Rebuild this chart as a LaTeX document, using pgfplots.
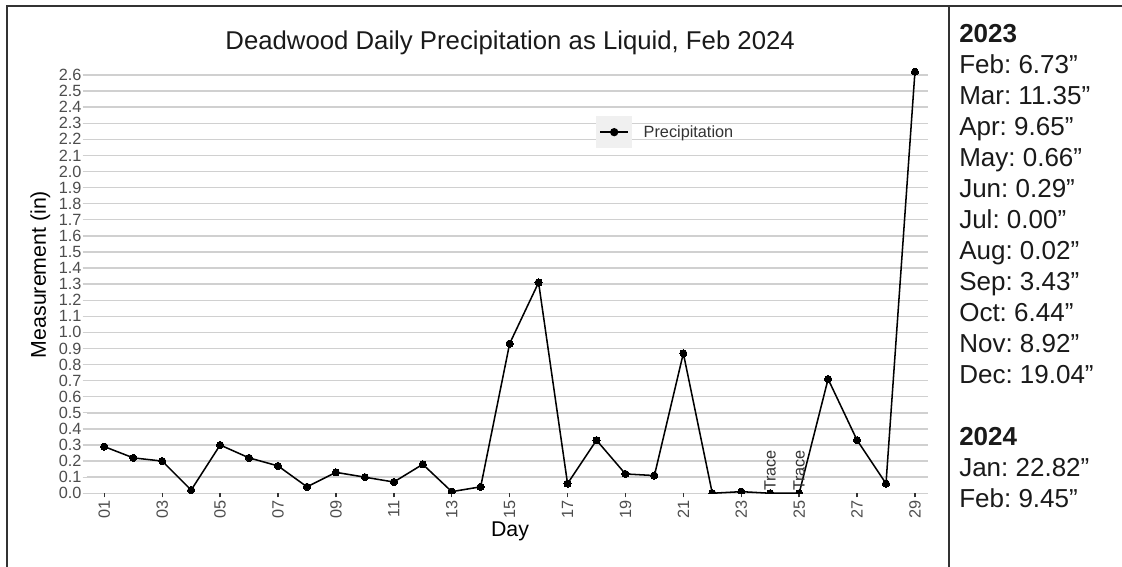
\documentclass[border=0pt]{standalone}
\usepackage{pgfplots}
\pgfplotsset{compat=1.18}
\usepackage{fontspec}
\setmainfont{Liberation Sans}
\frenchspacing
\definecolor{gridc}{HTML}{D0D0D0}
\definecolor{tickgray}{HTML}{4D4D4D}
\definecolor{framec}{HTML}{333333}
\definecolor{keybg}{HTML}{F0F0F0}
\definecolor{txtc}{HTML}{1A1A1A}
\newcommand{\ticksz}{\fontsize{12.2}{14.6}\selectfont}
\newcommand{\labsz}{\fontsize{16}{19}\selectfont}
\newcommand{\titsz}{\fontsize{19.3}{23}\selectfont}
\newcommand{\panelsz}{\fontsize{19.5}{23}\selectfont}

\pgfplotstableread{
day val
1 0.29
2 0.22
3 0.20
4 0.02
5 0.30
6 0.22
7 0.17
8 0.04
9 0.13
10 0.10
11 0.07
12 0.18
13 0.01
14 0.04
15 0.93
16 1.31
17 0.06
18 0.33
19 0.12
20 0.11
21 0.87
22 0.00
23 0.01
24 0.00
25 0.00
26 0.71
27 0.33
28 0.06
29 2.62
}\precip

\begin{document}
\begin{tikzpicture}
\useasboundingbox (0,0) rectangle (841.5pt,425.25pt);
\fill[white] (0,0) rectangle (841.5pt,425.25pt);
\begin{axis}[
  at={(65.0pt,55.3pt)}, anchor=south west,
  scale only axis, width=631.2pt, height=328.2pt,
  xmin=0.39, xmax=29.46, ymin=0, ymax=2.72,
  axis line style={draw=none},
  clip mode=individual, clip marker paths=true,
  tick align=outside, major tick length=3pt,
  tick pos=left,
  xtick={1,3,5,7,9,11,13,15,17,19,21,23,25,27,29},
  xticklabels={01,03,05,07,09,11,13,15,17,19,21,23,25,27,29},
  ytick={0,0.1,0.2,0.3,0.4,0.5,0.6,0.7,0.8,0.9,1.0,1.1,1.2,1.3,1.4,1.5,1.6,1.7,1.8,1.9,2.0,2.1,2.2,2.3,2.4,2.5,2.6},
  /pgf/number format/assume math mode=true,
  yticklabel style={/pgf/number format/fixed, /pgf/number format/fixed zerofill, /pgf/number format/precision=1, font=\ticksz, text=tickgray, inner sep=0.75pt},
  xticklabel style={rotate=90, anchor=east, font=\ticksz, text=tickgray, inner sep=2.2pt},
  xtick style={draw=framec, line width=1pt},
  ytick style={draw=gridc, line width=1pt},
  ymajorgrids, xmajorgrids=false,
  major grid style={draw=gridc, line width=1.05pt},
  every axis title shift=0pt,
  title={Deadwood Daily Precipitation as Liquid, Feb 2024},
  title style={at={(rel axis cs:0.5032,1.0146)}, anchor=base, font=\titsz, text=txtc},
  xlabel={Day},
  xlabel style={at={(rel axis cs:0.503,-0.0992)}, anchor=base, font=\labsz, text=black},
  ylabel={Measurement (in)},
  ylabel style={at={(rel axis cs:-0.0484,0.5)}, anchor=base, rotate=0, font=\labsz, text=black},
  legend image code/.code={
    \fill[keybg] (0pt,-11.6pt) rectangle (25.5pt,11.6pt);
    \draw[black, line width=1.1pt] (2.25pt,0pt) -- (23.25pt,0pt);
    \fill[black] (12.75pt,0pt) circle (2.5pt);
  },
  legend style={at={(0.6054,0.8252)}, anchor=west, draw=none, fill=none,
    inner sep=0pt, font=\ticksz, text=framec,
    nodes={inner sep=0pt},
    /tikz/every odd column/.append style={column sep=8.8pt}},
  legend cell align=left,
]
\addplot[black, line width=1.15pt, mark=*, mark size=2.7pt,
  mark options={fill=black, draw=black, line width=0pt}] table[x=day, y=val] {\precip};
\addlegendentry{Precipitation}
\node[rotate=90, anchor=west, font=\ticksz, text=framec, inner xsep=1.5pt, inner ysep=0pt] at (axis cs:24,0) {Trace};
\node[rotate=90, anchor=west, font=\ticksz, text=framec, inner xsep=1.5pt, inner ysep=0pt] at (axis cs:25,0) {Trace};
\end{axis}
\draw[framec, line width=1.8pt] (5.4pt,0pt) -- (5.4pt,420.6pt) -- (841.5pt,420.6pt);
\draw[framec, line width=1.8pt] (711.6pt,0pt) -- (711.6pt,420.6pt);
\begin{scope}[every node/.style={anchor=base west, inner sep=0pt, font=\panelsz, text=txtc}]
\node[font=\panelsz\bfseries] at (719.25pt,393.3pt) {2023};
\node at (719.25pt,370.05pt) {Feb: 6.73”};
\node at (719.25pt,346.8pt) {Mar: 11.35”};
\node at (719.25pt,323.55pt) {Apr: 9.65”};
\node at (719.25pt,300.3pt) {May: 0.66”};
\node at (719.25pt,277.05pt) {Jun: 0.29”};
\node at (719.25pt,253.8pt) {Jul: 0.00”};
\node at (719.25pt,230.55pt) {Aug: 0.02”};
\node at (719.25pt,207.3pt) {Sep: 3.43”};
\node at (719.25pt,184.05pt) {Oct: 6.44”};
\node at (719.25pt,160.8pt) {Nov: 8.92”};
\node at (719.25pt,137.55pt) {Dec: 19.04”};
\node[font=\panelsz\bfseries] at (719.25pt,91.05pt) {2024};
\node at (719.25pt,67.8pt) {Jan: 22.82”};
\node at (719.25pt,44.55pt) {Feb: 9.45”};
\end{scope}
\end{tikzpicture}
\end{document}
